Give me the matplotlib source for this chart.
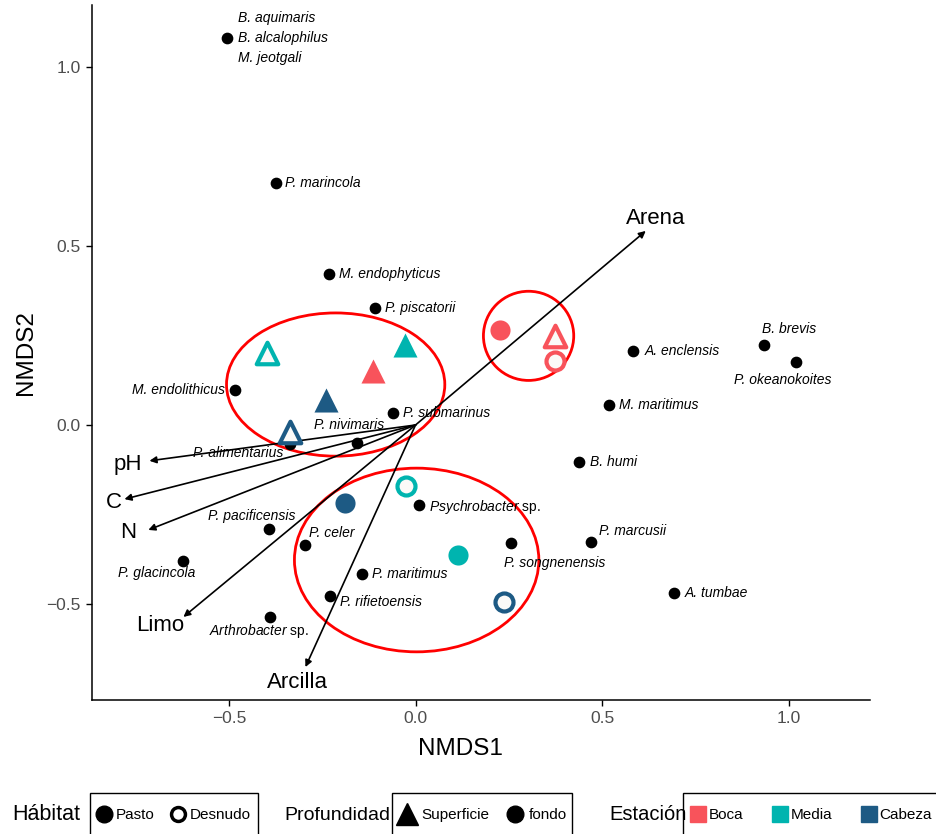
import matplotlib
matplotlib.use("Agg")
import matplotlib.pyplot as plt
from matplotlib.patches import Ellipse, Rectangle
from matplotlib.lines import Line2D

font = "Liberation Sans"
plt.rcParams["font.family"] = [font, "DejaVu Sans"]
plt.rcParams["mathtext.fontset"] = "custom"
plt.rcParams["mathtext.it"] = font + ":italic"
plt.rcParams["mathtext.rm"] = font

# species scores
species = ["B. aquimaris\nB. alcalophilus\nM. jeotgali", "P. marincola", "M. endophyticus",
           "P. piscatorii", "M. endolithicus", "P. submarinus", "P. nivimaris",
           "P. alimentarius", "P. pacificensis", "P. celer", "P. glacincola",
           "P. maritimus", "P. rifietoensis", r"$\mathit{Arthrobacter}$ sp.",
           r"$\mathit{Psychrobacter}$ sp.", "P. songnenensis", "P. marcusii",
           "A. tumbae", "B. humi", "M. maritimus", "A. enclensis", "B. brevis",
           "P. okeanokoites"]
sp_x = [-0.504, -0.373, -0.231, -0.108, -0.485, -0.060, -0.156, -0.336, -0.392, -0.296,
        -0.622, -0.143, -0.228, -0.389, 0.010, 0.257, 0.469, 0.692, 0.438, 0.518,
        0.582, 0.933, 1.021]
sp_y = [1.081, 0.676, 0.422, 0.327, 0.098, 0.034, -0.050, -0.053, -0.290, -0.335,
        -0.380, -0.416, -0.478, -0.536, -0.223, -0.330, -0.327, -0.469, -0.103, 0.056,
        0.207, 0.223, 0.176]

# samples
station = ["Boca", "Boca", "Boca", "Boca", "Media", "Media", "Cabeza", "Cabeza",
           "Cabeza", "Media", "Media", "Cabeza"]
habitat = ["Pasto", "Desnudo", "Desnudo", "Pasto", "Pasto", "Desnudo", "Pasto", "Desnudo",
           "Pasto", "Desnudo", "Pasto", "Desnudo"]
depth = ["fondo", "Superficie", "fondo", "Superficie", "Superficie", "Superficie",
         "Superficie", "Superficie", "fondo", "fondo", "fondo", "fondo"]
smp_x = [0.227, 0.373, 0.375, -0.115, -0.028, -0.397, -0.239, -0.336, -0.190, -0.025,
         0.115, 0.236]
smp_y = [0.265, 0.249, 0.179, 0.151, 0.223, 0.201, 0.070, -0.020, -0.218, -0.170,
         -0.363, -0.494]

# environmental vectors
env = ["Arena", "pH", "C", "N", "Limo", "Arcilla"]
env_x = [0.617, -0.713, -0.780, -0.716, -0.622, -0.295]
env_y = [0.542, -0.100, -0.207, -0.293, -0.536, -0.676]

# group ellipses: centre, width, height
ell_x = [-0.214, 0.303, 0.003]
ell_y = [0.113, 0.249, -0.377]
ell_w = [0.585, 0.242, 0.655]
ell_h = [0.400, 0.249, 0.513]

colors = {"Boca": "#F8535B", "Media": "#00B4AF", "Cabeza": "#1D5A84"}

# label offsets in pixels (dx, dy with y up) and alignment
lab_pos = [(11, 0, "left"), (9, 0, "left"), (10, 0, "left"), (10, 0, "left"),
           (-10, 0, "right"), (10, 0, "left"), (-8, 18, "center"), (-7, -9, "right"),
           (-17, 13, "center"), (4, 12, "left"), (-27, -12, "center"), (10, 0, "left"),
           (10, -6, "left"), (-11, -14, "center"), (10, -2, "left"), (-7, -20, "left"),
           (8, 11, "left"), (11, 0, "left"), (11, 0, "left"), (10, 0, "left"),
           (12, 0, "left"), (25, 16, "center"), (-14, -18, "center")]
env_pos = [(10, 12), (-22, -4), (-11, -3), (-20, -3), (-23, -9), (-8, -15)]

W, H = 937, 834
fig = plt.figure(figsize=(W / 100, H / 100), dpi=100)
ax = fig.add_axes([92 / W, 1 - 700 / H, 778 / W, 695 / H])
ax.set_xlim(-0.867, 1.218)
ax.set_ylim(-0.768, 1.173)

for cx, cy, w, h in zip(ell_x, ell_y, ell_w, ell_h):
    ax.add_patch(Ellipse((cx, cy), w, h, fill=False, edgecolor="#FF0000", lw=2, zorder=2))

for name, ex, ey, (dx, dy) in zip(env, env_x, env_y, env_pos):
    ax.annotate("", xy=(ex, ey), xytext=(0, 0),
                arrowprops=dict(arrowstyle="-|>", color="black", lw=1.2,
                                mutation_scale=10, shrinkA=0, shrinkB=0), zorder=3)
    ax.annotate(name, xy=(ex, ey), xytext=(dx, dy), textcoords="offset pixels",
                ha="center", va="center", fontsize=16, zorder=5)

ax.scatter(sp_x, sp_y, s=55, color="black", zorder=4)
for name, x, y, (dx, dy, ha) in zip(species, sp_x, sp_y, lab_pos):
    style = "normal" if "$" in name else "italic"
    ax.annotate(name, xy=(x, y), xytext=(dx, dy), textcoords="offset pixels",
                ha=ha, va="center", fontsize=10, style=style, linespacing=1.55, zorder=5)

for st, hb, dp, x, y in zip(station, habitat, depth, smp_x, smp_y):
    m = "^" if dp == "Superficie" else "o"
    size = 300 if m == "^" else 210
    if hb == "Pasto":
        ax.scatter(x, y, marker=m, s=size, color=colors[st], lw=0, zorder=6)
    else:
        ax.scatter(x, y, marker=m, s=size * 0.8, facecolor="#FBFAF8", edgecolor=colors[st],
                   lw=3, zorder=6)

for side in ["top", "right"]:
    ax.spines[side].set_visible(False)
for side in ["left", "bottom"]:
    ax.spines[side].set_linewidth(1.1)
ax.set_xticks([-0.5, 0.0, 0.5, 1.0])
ax.set_yticks([-0.5, 0.0, 0.5, 1.0])
ax.set_xticklabels(["\u22120.5", "0.0", "0.5", "1.0"])
ax.set_yticklabels(["\u22120.5", "0.0", "0.5", "1.0"])
ax.tick_params(length=4, width=1, labelsize=12.5, labelcolor="#4D4D4D", pad=4)
ax.set_xlabel("NMDS1", fontsize=17.5)
ax.set_ylabel("NMDS2", fontsize=17.5)
ax.xaxis.set_label_coords(0.474, -0.055)
ax.yaxis.set_label_coords(-0.071, 0.5)

# legends along the bottom; frames drawn by hand so they run off the bottom edge
yc = 1 - 815 / H
leg_kw = dict(loc="center left", borderaxespad=0, borderpad=0, frameon=False, fontsize=11)
h1 = [Line2D([], [], marker="o", ls="", color="black", ms=12),
      Line2D([], [], marker="o", ls="", mfc="white", mec="black", mew=2.5, ms=10)]
fig.legend(h1, ["Pasto", "Desnudo"], ncol=2, columnspacing=1.0, handlelength=1.0,
           handletextpad=0.3, bbox_to_anchor=(96 / W, yc), **leg_kw)
h2 = [Line2D([], [], marker="^", ls="", color="black", ms=16),
      Line2D([], [], marker="o", ls="", color="black", ms=12)]
fig.legend(h2, ["Superficie", "fondo"], ncol=2, columnspacing=1.0, handlelength=1.3,
           handletextpad=0.3, bbox_to_anchor=(397 / W, yc), **leg_kw)
h3 = [Line2D([], [], marker="s", ls="", color=colors[k], ms=11) for k in colors]
fig.legend(h3, list(colors), ncol=3, columnspacing=1.9, handlelength=1.0,
           handletextpad=0.2, bbox_to_anchor=(690 / W, yc), **leg_kw)

for x0, x1 in [(90, 258), (392, 572), (683, 960)]:
    fig.add_artist(Rectangle((x0 / W, -0.05), (x1 - x0) / W, 0.05 + 1 - 793 / H,
                             transform=fig.transFigure, fill=False, ec="black", lw=1))

fig.text(12 / W, yc, "Hábitat", fontsize=15.5, va="center")
fig.text(284 / W, yc, "Profundidad", fontsize=14, va="center")
fig.text(609 / W, yc, "Estación", fontsize=14.5, va="center")

fig.savefig("out.png", dpi=100)
